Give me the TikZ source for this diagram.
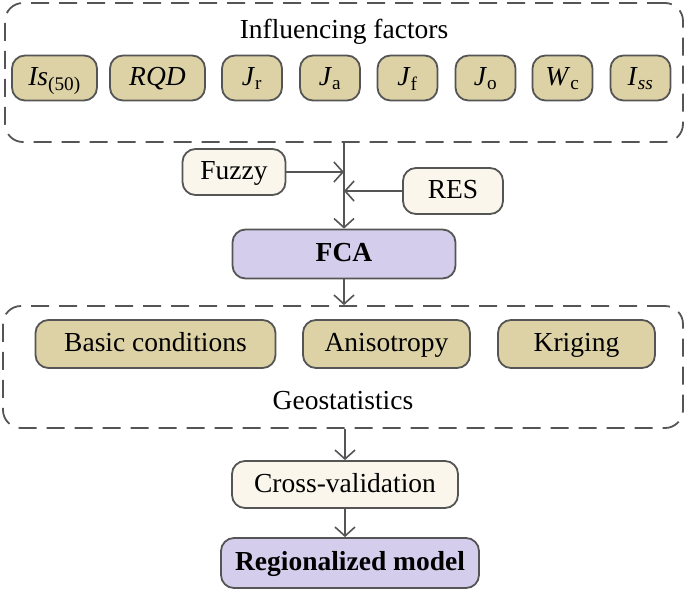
\documentclass[tikz,border=0pt]{standalone}
\usepackage{fontspec}
\setmainfont{Liberation Serif}
\usetikzlibrary{arrows.meta}
\definecolor{edge}{HTML}{555555}
\definecolor{tan}{HTML}{DDD2A6}
\definecolor{cream}{HTML}{FAF6EC}
\definecolor{lav}{HTML}{D5CDEC}
\tikzset{
  base/.style={draw=edge, line width=1.8pt, rounded corners=13pt, inner sep=0pt, text height=20pt, text depth=5pt, font=\fontsize{27.5}{32}\selectfont},
  fbox/.style={base, fill=tan, minimum height=45pt},
  cbox/.style={base, fill=cream, minimum height=46pt},
  lbox/.style={base, fill=lav, minimum height=49pt, font=\fontsize{27.5}{32}\selectfont\bfseries},
  group/.style={draw=edge, line width=1.8pt, rounded corners=18pt, dash pattern=on 18pt off 10pt, inner sep=0pt},
  lbl/.style={font=\fontsize{27.5}{32}\selectfont, inner sep=0pt, text height=20pt, text depth=5pt},
  arr/.style={draw=edge, line width=1.6pt, -{Straight Barb[length=9pt,width=20pt,line width=1.6pt]}},
}
\begin{document}
\begin{tikzpicture}[x=1pt,y=-1pt]
\useasboundingbox (0,0) rectangle (685,595);
% groups
\node[group, minimum width=678pt, minimum height=139pt] (top) at (344,72.5) {};
\node[group, minimum width=680pt, minimum height=122pt] (geo) at (343,367) {};
\node[lbl] (title) at (344,30.5) {Influencing factors};
% factors
\node[fbox, minimum width=85pt] (is) at (54.5,78) {\textit{Is}\textsubscript{(50)}};
\node[fbox, minimum width=95pt] (rqd) at (157.5,78) {\textit{RQD}};
\node[fbox, minimum width=60pt] (jr) at (252,78) {\textit{J}\textsubscript{r}};
\node[fbox, minimum width=60pt] (ja) at (330,78) {\textit{J}\textsubscript{a}};
\node[fbox, minimum width=60pt] (jf) at (407.5,78) {\textit{J}\textsubscript{f}};
\node[fbox, minimum width=60pt] (jo) at (485.5,78) {\textit{J}\textsubscript{o}};
\node[fbox, minimum width=60pt] (wc) at (562.5,78) {\textit{W}\textsubscript{c}};
\node[fbox, minimum width=60pt] (iss) at (640.5,78) {\textit{I}\textsubscript{\textit{ss}}};
% middle
\node[cbox, minimum width=103pt] (fuzzy) at (234,172) {Fuzzy};
\node[cbox, minimum width=100pt] (res) at (453,191) {RES};
\node[lbox, minimum width=223pt] (fca) at (344,254) {FCA};
% geostatistics
\node[fbox, minimum width=240pt, minimum height=48pt] (basic) at (155.5,344) {Basic conditions};
\node[fbox, minimum width=167pt, minimum height=48pt] (aniso) at (386.5,344) {Anisotropy};
\node[fbox, minimum width=157pt, minimum height=48pt] (krig) at (576.5,344) {Kriging};
\node[lbl] (geot) at (343,402) {Geostatistics};
% bottom
\node[cbox, minimum width=226pt, minimum height=47pt] (cv) at (345,484.5) {Cross-validation};
\node[lbox, minimum width=258pt, minimum height=50pt] (reg) at (350,563) {Regionalized model};
% connectors
\coordinate (tb) at (top.south -| fca.north);
\draw[arr] (tb) -- (fca.north);
\draw[arr] (fuzzy.east) -- (fuzzy.east -| fca.north);
\draw[arr] (res.west) -- (res.west -| fca.north);
\draw[arr] (fca.south) -- (fca.south |- geo.north);
\coordinate (gb) at (geo.south -| cv.north);
\draw[arr] (gb) -- (cv.north);
\draw[arr] (cv.south) -- (cv.south |- reg.north);
\end{tikzpicture}
\end{document}
